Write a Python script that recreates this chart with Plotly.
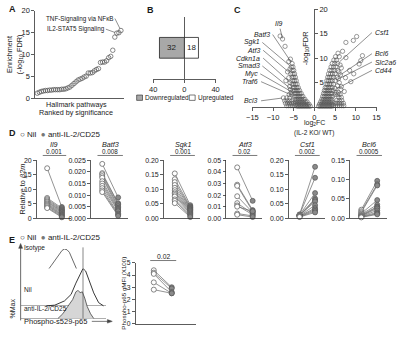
import plotly.graph_objects as go

W, H = 400, 340
FONT = "Liberation Sans, Arial, Helvetica, sans-serif"
INK = "#1a1a1a"
AX = "#333333"


def fx(p):
    return p / W


def fy(p):
    return 1 - p / H


# ---------------- data ----------------
# A: hallmark pathway enrichment (-log10 FDR), ranked
hallmark_enrichment = [1.2, 1.4, 1.6, 1.7, 1.8, 1.8, 1.9, 1.9, 2.0, 2.0, 2.0, 2.0, 2.1, 2.1,
                       2.2, 2.4, 2.6, 3.0, 3.4, 3.8, 4.2, 4.4, 4.6, 4.9, 5.1, 5.8, 5.8, 5.9,
                       6.3, 6.6, 6.8, 8.2, 8.3, 8.3, 8.6, 9.3, 9.6, 11.0, 14.0, 14.9, 15.0, 15.5]
hallmark_labels = ["TNF-Signaling via NFκB", "IL2-STAT5 Signaling"]
hallmark_label_rank = [42, 40]

# B: number of DE genes
deg_direction = ["Downregulated", "Upregulated"]
deg_counts = [32, 18]

# C: volcano (log2FC, -log10 FDR)
volcano_points = [
    (-1.0, 0.2), (-1.4, 0.2), (-1.8, 0.2), (-2.2, 0.2), (-2.6, 0.2), (-3.0, 0.2), (-3.4, 0.2), (-3.8, 0.2), (-4.2, 0.2),
    (-1.3, 0.6), (-1.7, 0.6), (-2.1, 0.6), (-2.5, 0.6), (-2.9, 0.6), (-3.3, 0.6), (-3.7, 0.6), (-4.1, 0.6), (-4.5, 0.6),
    (-1.8, 1.1), (-2.2, 1.1), (-2.6, 1.1), (-3.0, 1.1), (-3.4, 1.1), (-3.8, 1.1), (-4.2, 1.1), (-4.6, 1.1),
    (-2.3, 1.6), (-2.7, 1.6), (-3.1, 1.6), (-3.5, 1.6), (-3.9, 1.6), (-4.3, 1.6), (-4.7, 1.6),
    (-2.8, 2.2), (-3.2, 2.2), (-3.6, 2.2), (-4.0, 2.2), (-4.4, 2.2), (-4.8, 2.2),
    (-3.2, 2.8), (-3.6, 2.8), (-4.0, 2.8), (-4.4, 2.8), (-4.8, 2.8),
    (-3.6, 3.4), (-4.0, 3.4), (-4.4, 3.4), (-4.8, 3.4), (-5.2, 3.4),
    (-3.9, 4.0), (-4.3, 4.0), (-4.7, 4.0), (-5.1, 4.0),
    (-4.2, 4.7), (-4.6, 4.7), (-5.0, 4.7), (-5.4, 4.7),
    (-4.4, 5.4), (-4.8, 5.4), (-5.2, 5.4),
    (-4.6, 6.1), (-5.0, 6.1), (-5.4, 6.1),
    (-4.8, 6.8), (-5.2, 6.8), (-5.7, 6.8),
    (-5.0, 7.5), (-5.4, 7.5),
    (-5.2, 8.2), (-5.6, 8.2),
    (-5.4, 8.9),
    (-4.7, 0.3), (-5.2, 0.3), (-5.7, 0.3), (-6.2, 0.3), (-6.7, 0.3),
    (-5.0, 0.8), (-5.5, 0.8), (-6.0, 0.8), (-6.5, 0.8), (-7.0, 0.8),
    (-5.4, 1.3), (-6.0, 1.3), (-6.6, 1.3), (-7.2, 1.3),
    (-6.0, 1.9), (-6.7, 1.9), (-7.5, 1.9),
    (-5.5, 2.5), (-6.1, 2.6), (-5.6, 3.0), (-5.8, 3.6), (-5.9, 5.0), (-6.2, 6.0), (-5.9, 7.8),
    (-8.3, 14.5), (-7.7, 13.9), (-7.1, 12.4), (-6.2, 9.3), (-5.8, 9.8), (-6.5, 7.2), (-6.9, 5.4), (-6.0, 4.2),
    (1.0, 0.2), (1.4, 0.2), (1.8, 0.2), (2.2, 0.2), (2.6, 0.2), (3.0, 0.2), (3.4, 0.2), (3.8, 0.2), (4.2, 0.2),
    (1.2, 0.6), (1.6, 0.6), (2.0, 0.6), (2.4, 0.6), (2.8, 0.6), (3.2, 0.6), (3.6, 0.6), (4.0, 0.6), (4.4, 0.6),
    (1.5, 1.1), (1.9, 1.1), (2.3, 1.1), (2.7, 1.1), (3.1, 1.1), (3.5, 1.1), (3.9, 1.1), (4.3, 1.1),
    (1.8, 1.6), (2.2, 1.6), (2.6, 1.6), (3.0, 1.6), (3.4, 1.6), (3.8, 1.6), (4.2, 1.6),
    (2.0, 2.2), (2.4, 2.2), (2.8, 2.2), (3.2, 2.2), (3.6, 2.2), (4.0, 2.2), (4.4, 2.2),
    (2.2, 2.8), (2.6, 2.8), (3.0, 2.8), (3.4, 2.8), (3.8, 2.8), (4.2, 2.8),
    (2.4, 3.4), (2.8, 3.4), (3.2, 3.4), (3.6, 3.4), (4.0, 3.4), (4.5, 3.4),
    (2.6, 4.0), (3.0, 4.0), (3.4, 4.0), (3.8, 4.0), (4.3, 4.0),
    (2.8, 4.7), (3.2, 4.7), (3.6, 4.7), (4.0, 4.7), (4.6, 4.7),
    (3.0, 5.4), (3.4, 5.4), (3.8, 5.4), (4.3, 5.4), (5.0, 5.4),
    (3.2, 6.1), (3.6, 6.1), (4.0, 6.1), (4.6, 6.1), (5.4, 6.1),
    (3.4, 6.8), (3.9, 6.8), (4.4, 6.8), (5.0, 6.8),
    (3.7, 7.5), (4.2, 7.5), (4.8, 7.5), (5.6, 7.5),
    (4.0, 8.2), (4.6, 8.2), (5.2, 8.2),
    (4.3, 8.9), (4.9, 8.9), (5.6, 8.9),
    (4.7, 9.6), (5.3, 9.6),
    (5.1, 10.3), (6.0, 10.3),
    (4.6, 0.3), (5.1, 0.3), (5.6, 0.3), (6.1, 0.3), (6.6, 0.3), (7.1, 0.3),
    (5.0, 0.8), (5.5, 0.8), (6.0, 0.8), (6.5, 0.8), (7.0, 0.8),
    (5.4, 1.4), (6.0, 1.4), (6.6, 1.4),
    (5.9, 2.0), (6.5, 2.0),
    (5.0, 2.6), (5.6, 2.6), (6.2, 2.6), (5.2, 3.0), (5.8, 3.0), (6.4, 3.6), (5.0, 3.8), (5.6, 4.4),
    (6.0, 5.0), (5.8, 5.8), (6.3, 6.6), (5.9, 7.2), (6.5, 8.0), (6.2, 8.6),
    (5.7, 11.0), (6.8, 11.4), (7.6, 13.2), (9.4, 13.6), (10.2, 14.4), (7.6, 10.1), (11.6, 10.5),
    (11.2, 9.5), (10.8, 8.8), (8.5, 7.5), (9.5, 6.8), (7.5, 6.0), (8.8, 5.2), (6.5, 4.2), (7.2, 3.2),
]
volcano_genes = ["Il9", "Batf3", "Sgk1", "Atf3", "Cdkn1a", "Smad3", "Myc", "Traf6", "Bcl3",
                 "Csf1", "Bcl6", "Slc2a6", "Cd44"]
volcano_gene_fc = [-7.7, -5.4, -5.6, -5.7, -5.4, -5.2, -4.8, -4.8, -7.5, 5.6, 5.4, 5.0, 4.5]
volcano_gene_fdr = [13.9, 8.9, 8.2, 6.8, 4.7, 3.4, 2.8, 2.2, 1.9, 8.9, 6.1, 5.4, 3.4]

# D: qPCR relative to b2m, paired Nil vs anti-IL-2/CD25
il9_nil = [17.3, 7.0, 6.6, 6.2, 5.8, 5.5, 5.1, 4.8, 4.5, 4.2, 3.8, 3.5]
il9_anti = [3.9, 3.5, 3.1, 2.8, 2.5, 2.2, 1.9, 1.5, 1.2, 0.9, 0.6, 0.3]
batf3_nil = [0.0235, 0.0195, 0.019, 0.0182, 0.0175, 0.016, 0.015, 0.014, 0.013, 0.012, 0.0113]
batf3_anti = [0.009, 0.0065, 0.006, 0.0052, 0.0045, 0.004, 0.0035, 0.003, 0.002, 0.0015, 0.001]
sgk1_nil = [0.155, 0.135, 0.125, 0.115, 0.105, 0.097, 0.09, 0.085, 0.08, 0.075, 0.065, 0.06, 0.052]
sgk1_anti = [0.045, 0.04, 0.037, 0.035, 0.032, 0.03, 0.027, 0.024, 0.02, 0.016, 0.012, 0.008, 0.004]
atf3_nil = [0.044, 0.029, 0.028, 0.019, 0.013, 0.011, 0.010, 0.004, 0.003]
atf3_anti = [0.015, 0.007, 0.006, 0.005, 0.004, 0.003, 0.006, 0.002, 0.001]
csf1_nil = [0.013, 0.012, 0.011, 0.010, 0.010, 0.009, 0.008, 0.007, 0.006, 0.005, 0.004]
csf1_anti = [0.178, 0.14, 0.087, 0.068, 0.063, 0.058, 0.045, 0.035, 0.030, 0.025, 0.020]
bcl6_nil = [0.022, 0.018, 0.015, 0.012, 0.010, 0.008, 0.007, 0.006, 0.005, 0.004, 0.003, 0.002]
bcl6_anti = [0.097, 0.088, 0.085, 0.047, 0.035, 0.030, 0.028, 0.025, 0.020, 0.015, 0.012, 0.010]
d_genes = ["Il9", "Batf3", "Sgk1", "Atf3", "Csf1", "Bcl6"]
d_pvalues = ["0.001", "0.008", "0.001", "0.02", "0.002", "0.0005"]
d_ymax = [20, 0.025, 0.20, 0.05, 0.20, 0.15]
d_dtick = [5, 0.005, 0.05, 0.01, 0.05, 0.05]
d_tickformat = ["d", ".3f", ".2f", ".2f", ".2f", ".2f"]
groups = ["Nil", "anti-IL-2/CD25"]

# E: flow histograms (%Max) and phospho-p65 gMFI
hist_iso_channel = [1.9, 13.3, 24.7, 30.3, 36.0, 40.6, 45.5, 48.3, 51.1, 54.0, 56.8, 59.7, 62.5, 65.3, 68.2, 71.0, 73.9, 81.5]
hist_iso_pct = [2.8, 8.3, 21.4, 35.0, 53.9, 71.0, 86.4, 96.0, 100, 98.0, 90.8, 74.0, 53.9, 38.0, 26.1, 16.0, 7.5, 0]
hist_nil_channel = [30.0, 39.8, 51.1, 58.8, 64.4, 69.3, 72.7, 75.8, 80.7, 85.2, 90.9, 96.6]
hist_nil_pct = [0, 1.8, 13.1, 30.5, 60.8, 86.9, 100, 93.2, 65.3, 34.7, 8.6, 0]
hist_anti_channel = [43.5, 49.2, 54.9, 60.6, 64.4, 67.0, 69.3, 71.9, 74.7, 77.6, 81.5, 85.2]
hist_anti_pct = [0, 16.7, 42.3, 66.7, 94.3, 100, 91.0, 94.3, 72.3, 42.3, 16.7, 0]
hist_gate = 72.7
hist_labels = ["Isotype", "Nil", "anti-IL-2/CD25"]
p65_nil = [4.4, 4.2, 4.1, 3.4, 2.8]
p65_anti = [3.0, 2.9, 2.6, 2.5, 2.5]
p65_pvalue = "0.02"

# ---------------- figure ----------------
fig = go.Figure()
layout = dict(width=W, height=H, margin=dict(l=0, r=0, t=0, b=0),
              paper_bgcolor="white", plot_bgcolor="white", showlegend=False,
              barmode="overlay", font=dict(family=FONT, color=INK, size=7))
annotations = []
shapes = []

base_axis = dict(showline=True, linecolor=AX, linewidth=0.8, ticks="outside", ticklen=3,
                 tickwidth=0.8, tickcolor=AX, showgrid=False, zeroline=False,
                 tickfont=dict(size=7, color=INK, family=FONT))


def txt(x, y, s, size=7, xanchor="center", yanchor="middle", angle=0, **kw):
    annotations.append(dict(x=fx(x), y=fy(y), xref="paper", yref="paper", text=s, showarrow=False,
                            xanchor=xanchor, yanchor=yanchor, textangle=angle, borderpad=0,
                            font=dict(size=size, color=INK, family=FONT), **kw))


# ---- panel letters
for L, (lx, ly) in zip("ABCDE", [(2, 5), (144, 6), (233, 6), (2, 132), (2, 242)]):
    txt(lx, ly, "<b>%s</b>" % L, size=9, xanchor="left")

# ---- A
rank = list(range(1, len(hallmark_enrichment) + 1))
fig.add_trace(go.Scatter(x=rank, y=hallmark_enrichment, mode="markers", xaxis="x", yaxis="y",
                         cliponaxis=False,
                         marker=dict(symbol="circle-open", size=4.5, color="#555",
                                     line=dict(width=0.7))))
layout["xaxis"] = dict(base_axis, domain=[fx(30), fx(121)], range=[0, 43.5], anchor="y",
                       ticks="", showticklabels=False)
layout["yaxis"] = dict(base_axis, domain=[fy(97), fy(7)], range=[0, 20], dtick=5, anchor="x",
                       tickfont=dict(size=7.5, color=INK, family=FONT))
for lab, r, (axp, ayp) in zip(hallmark_labels, hallmark_label_rank, [(-6, -12), (-11, -4)]):
    annotations.append(dict(x=r, y=hallmark_enrichment[r - 1], xref="x", yref="y", text=lab,
                            showarrow=True, arrowhead=0, arrowwidth=0.6, arrowcolor="#444",
                            ax=axp, ay=ayp, xanchor="right", yanchor="middle", standoff=2,
                            borderpad=0, font=dict(size=6.3, color=INK, family=FONT)))
txt(9, 52, "Enrichment<br>(-log<sub>10</sub> FDR)", size=7.3, angle=-90)
txt(72, 103, "Hallmark pathways", size=7.2)
txt(72, 111.5, "Ranked by significance", size=7.2)

# ---- B
fig.add_trace(go.Bar(x=[-deg_counts[0]], y=[0], orientation="h", width=1.0, xaxis="x2", yaxis="y2",
                     marker=dict(color="#a8a8a8", line=dict(color="#222", width=0.8))))
fig.add_trace(go.Bar(x=[deg_counts[1]], y=[0], orientation="h", width=1.0, xaxis="x2", yaxis="y2",
                     marker=dict(color="white", line=dict(color="#222", width=0.8))))
for v in (-deg_counts[0], deg_counts[1]):
    annotations.append(dict(x=v / 2, y=0, xref="x2", yref="y2", text=str(abs(v)), showarrow=False,
                            borderpad=0, font=dict(size=8, color=INK, family=FONT)))
layout["xaxis2"] = dict(base_axis, domain=[fx(151), fx(215)], range=[-40, 40], anchor="y2",
                        tickvals=[-40, 0, 40], ticktext=["40", "0", "40"],
                        zeroline=True, zerolinecolor=AX, zerolinewidth=0.8,
                        tickfont=dict(size=7.5, color=INK, family=FONT))
layout["yaxis2"] = dict(domain=[fy(77), fy(13)], range=[-1.5, 1.5], anchor="x2", visible=False)
for (sx, tx), lab, col in zip([(134, 142), (188, 196)], deg_direction, ["#a8a8a8", "white"]):
    shapes.append(dict(type="rect", xref="paper", yref="paper", x0=fx(sx), x1=fx(sx + 6),
                       y0=fy(99), y1=fy(93.5), fillcolor=col, line=dict(color="#222", width=0.6)))
    txt(tx, 96.3, lab, size=6.5, xanchor="left")

# ---- C
vx = [p[0] for p in volcano_points]
vy = [p[1] for p in volcano_points]
fig.add_trace(go.Scatter(x=vx, y=vy, mode="markers", xaxis="x3", yaxis="y3", cliponaxis=False,
                         marker=dict(symbol="circle-open", size=4.3, color="#555",
                                     line=dict(width=0.6))))
layout["xaxis3"] = dict(base_axis, domain=[fx(252.7), fx(380)], range=[-15, 15], dtick=5,
                        anchor="y3", tickfont=dict(size=7.5, color=INK, family=FONT))
layout["yaxis3"] = dict(base_axis, domain=[fy(106), fy(5.2)], range=[0, 20],
                        tickvals=[5, 10, 15, 20], anchor="free", position=fx(316), side="right",
                        tickfont=dict(size=7.5, color=INK, family=FONT))
# label anchor (x, y, text anchor) in axis units of panel C
label_pos = {"Il9": (-8.6, 17.0, "center"), "Batf3": (-10.5, 14.8, "right"),
             "Sgk1": (-13.0, 13.2, "right"), "Atf3": (-12.8, 11.6, "right"),
             "Cdkn1a": (-12.8, 10.0, "right"), "Smad3": (-13.0, 8.4, "right"),
             "Myc": (-13.5, 6.8, "right"), "Traf6": (-13.3, 5.2, "right"),
             "Bcl3": (-13.3, 1.3, "right"), "Csf1": (14.3, 15.2, "left"),
             "Bcl6": (14.3, 10.9, "left"), "Slc2a6": (14.3, 9.2, "left"),
             "Cd44": (14.3, 7.5, "left")}
for g, gx, gy in zip(volcano_genes, volcano_gene_fc, volcano_gene_fdr):
    lx_, ly_, anc = label_pos[g]
    annotations.append(dict(x=lx_, y=ly_, xref="x3", yref="y3", text="<i>%s</i>" % g,
                            showarrow=False, xanchor=anc, yanchor="middle", borderpad=0,
                            font=dict(size=6.9, color=INK, family=FONT)))
    if anc == "center":
        sx, sy = lx_ + 0.3, ly_ - 1.0
    elif anc == "right":
        sx, sy = lx_ + 0.4, ly_
    else:
        sx, sy = lx_ - 0.4, ly_
    ex = gx + (sx - gx) * 0.06
    ey = gy + (sy - gy) * 0.06
    shapes.append(dict(type="line", xref="x3", yref="y3", x0=sx, y0=sy, x1=ex, y1=ey,
                       line=dict(color="#444", width=0.6)))
txt(307, 45, "-log<sub>10</sub>FDR", size=7.5, angle=-90)
txt(316, 122, "log<sub>2</sub>FC", size=7.0)
txt(316, 132.5, "(IL-2 KO/ WT)", size=6.5)

# ---- D
d_nil = [il9_nil, batf3_nil, sgk1_nil, atf3_nil, csf1_nil, bcl6_nil]
d_anti = [il9_anti, batf3_anti, sgk1_anti, atf3_anti, csf1_anti, bcl6_anti]
d_left = [31.7, 87.3, 162, 226, 290, 353]
d_width = [35, 38, 37, 37, 37, 38]
xr = [-0.7, 1.63]
for i in range(6):
    n = 4 + i
    xa, ya = "x%d" % n, "y%d" % n
    lx, ly = [], []
    for a, b in zip(d_nil[i], d_anti[i]):
        lx += [0, 1, None]
        ly += [a, b, None]
    fig.add_trace(go.Scatter(x=lx, y=ly, mode="lines", xaxis=xa, yaxis=ya, cliponaxis=False,
                             line=dict(color="#666", width=0.7)))
    fig.add_trace(go.Scatter(x=[0] * len(d_nil[i]), y=d_nil[i], mode="markers", xaxis=xa, yaxis=ya,
                             cliponaxis=False,
                             marker=dict(symbol="circle", size=5, color="white",
                                         line=dict(color="#555", width=0.7))))
    fig.add_trace(go.Scatter(x=[1] * len(d_anti[i]), y=d_anti[i], mode="markers", xaxis=xa, yaxis=ya,
                             cliponaxis=False,
                             marker=dict(symbol="circle", size=5, color="#8a8a8a",
                                         line=dict(color="#555", width=0.7))))
    layout["xaxis%d" % n] = dict(base_axis, domain=[fx(d_left[i]), fx(d_left[i] + d_width[i])],
                                 range=xr, anchor=ya, ticks="", showticklabels=False)
    layout["yaxis%d" % n] = dict(base_axis, domain=[fy(220), fy(160.7)], range=[0, d_ymax[i]],
                                 dtick=d_dtick[i], tickformat=d_tickformat[i], anchor=xa)
    cx = d_left[i] + d_width[i] * (0.5 - xr[0]) / (xr[1] - xr[0])
    txt(cx, 144.5, "<i>%s</i>" % d_genes[i], size=7.2)
    txt(cx, 152, d_pvalues[i], size=6.3)
    shapes.append(dict(type="line", xref=xa, yref="paper", x0=-0.3, x1=1.3, y0=fy(155.6), y1=fy(155.6),
                       line=dict(color="#444", width=0.7)))
txt(17, 190, "Relative to <i>β2m</i>", size=7.3, angle=-90)
legend_txt = "○ %s  <span style='color:#777'>●</span> %s" % (groups[0], groups[1])
txt(13, 134.5, legend_txt, size=8.0, xanchor="left")
txt(13, 240, legend_txt, size=8.0, xanchor="left")

# ---- E right (paired gMFI)
lx, ly = [], []
for a, b in zip(p65_nil, p65_anti):
    lx += [0, 1, None]
    ly += [a, b, None]
fig.add_trace(go.Scatter(x=lx, y=ly, mode="lines", xaxis="x10", yaxis="y10", cliponaxis=False,
                         line=dict(color="#666", width=0.7)))
fig.add_trace(go.Scatter(x=[0] * len(p65_nil), y=p65_nil, mode="markers", xaxis="x10", yaxis="y10",
                         cliponaxis=False,
                         marker=dict(symbol="circle", size=5, color="white", line=dict(color="#555", width=0.7))))
fig.add_trace(go.Scatter(x=[1] * len(p65_anti), y=p65_anti, mode="markers", xaxis="x10", yaxis="y10",
                         cliponaxis=False,
                         marker=dict(symbol="circle", size=5, color="#8a8a8a", line=dict(color="#555", width=0.7))))
xr10 = [-1.01, 2.36]
layout["xaxis10"] = dict(base_axis, domain=[fx(133), fx(195)], range=xr10, anchor="y10",
                         ticks="", showticklabels=False)
layout["yaxis10"] = dict(base_axis, domain=[fy(328.3), fy(266)], range=[0, 5], dtick=1, anchor="x10",
                         tickfont=dict(size=6.8, color=INK, family=FONT))
txt(162, 259.5, p65_pvalue, size=6.8)
shapes.append(dict(type="line", xref="x10", yref="paper", x0=-0.2, x1=1.25, y0=fy(263.5), y1=fy(263.5),
                   line=dict(color="#444", width=0.7)))
txt(120.5, 297, "Phospho-p65 gMFI (X100)", size=6.2, angle=-90)

# ---- E left (histograms)
fig.add_trace(go.Scatter(x=hist_iso_channel, y=hist_iso_pct, mode="lines", xaxis="x11", yaxis="y11",
                         line=dict(color="#444", width=0.8)))
fig.add_trace(go.Scatter(x=hist_nil_channel, y=hist_nil_pct, mode="lines", xaxis="x11", yaxis="y12",
                         line=dict(color="#222", width=0.9)))
fig.add_trace(go.Scatter(x=hist_anti_channel, y=hist_anti_pct, mode="lines", xaxis="x11", yaxis="y13",
                         fill="tozeroy", fillcolor="#d6d6d6", line=dict(color="#444", width=0.8)))
layout["xaxis11"] = dict(domain=[fx(15), fx(103)], range=[0, 100], anchor="y13", showline=False,
                         showticklabels=False, ticks="", showgrid=False, zeroline=False)
hist_y = dict(showline=False, showticklabels=False, ticks="", showgrid=False, zeroline=True,
              zerolinecolor="#9a9a9a", zerolinewidth=0.8, range=[-3, 100], anchor="x11")
layout["yaxis11"] = dict(hist_y, domain=[fy(288.8), fy(251.7)])
layout["yaxis12"] = dict(hist_y, domain=[fy(311.2), fy(271.7)])
layout["yaxis13"] = dict(hist_y, domain=[fy(323.9), fy(294)])
shapes.append(dict(type="line", xref="x11", yref="paper", x0=hist_gate, x1=hist_gate,
                   y0=fy(323), y1=fy(250), line=dict(color="#555", width=0.7)))
# axis arrows
shapes.append(dict(type="line", xref="paper", yref="paper", x0=fx(15), x1=fx(15), y0=fy(325), y1=fy(249),
                   line=dict(color="#444", width=0.8)))
shapes.append(dict(type="path", xref="paper", yref="paper",
                   path="M %f %f L %f %f L %f %f Z" % (fx(13), fy(251), fx(15), fy(246), fx(17), fy(251)),
                   fillcolor="#444", line=dict(color="#444", width=0.5)))
shapes.append(dict(type="line", xref="paper", yref="paper", x0=fx(88), x1=fx(106), y0=fy(326), y1=fy(326),
                   line=dict(color="#444", width=0.7)))
shapes.append(dict(type="path", xref="paper", yref="paper",
                   path="M %f %f L %f %f L %f %f Z" % (fx(104), fy(324.2), fx(109), fy(326), fx(104), fy(327.8)),
                   fillcolor="#444", line=dict(color="#444", width=0.5)))
for lab, yy in zip(hist_labels, [251, 293.5, 313]):
    txt(17, yy, lab, size=6.5, xanchor="left")
txt(7, 313, "%Max", size=7, angle=-90)
txt(51, 326, "Phospho-s529-p65", size=7.5)

layout["annotations"] = annotations
layout["shapes"] = shapes
fig.update_layout(**layout)
fig.write_html("out.html", config={"displayModeBar": False, "staticPlot": True},
               post_script="document.body.style.margin='0';document.body.style.overflow='hidden';")
